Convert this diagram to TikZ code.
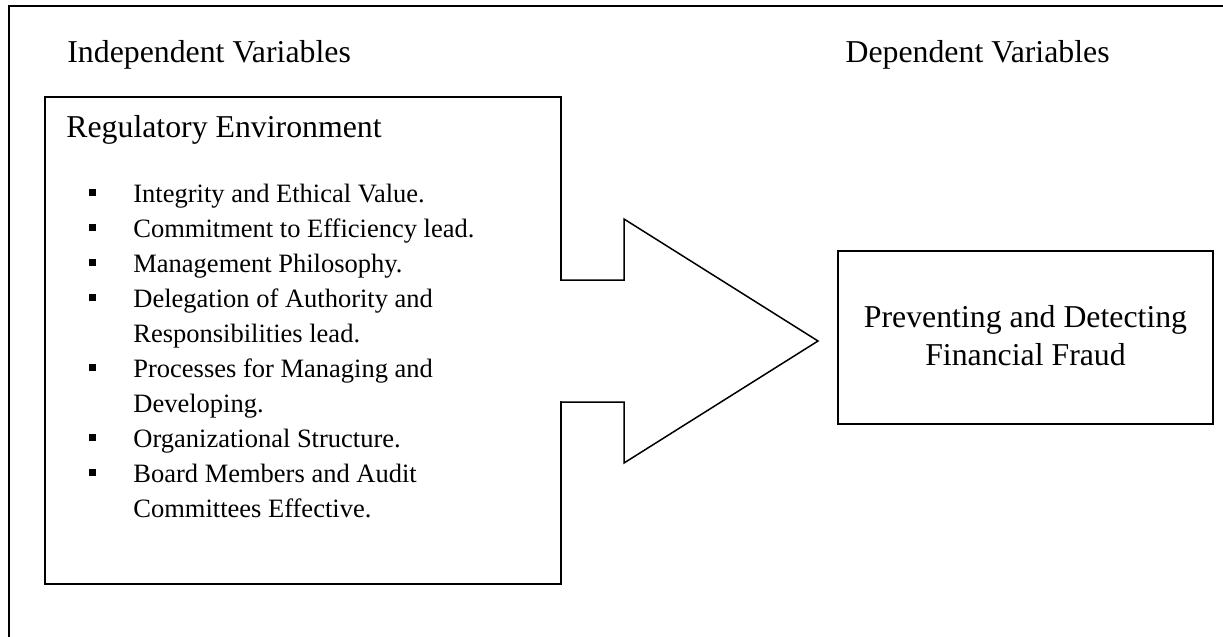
\documentclass[tikz,border=0pt]{standalone}
\usepackage{fontspec}
\setmainfont{Liberation Serif}
\usetikzlibrary{positioning}

\begin{document}
\begin{tikzpicture}[
      x=0.5pt, y=-0.5pt,
      big/.style={font=\fontsize{15.9}{19}\selectfont, inner sep=0pt},
      item/.style={font=\fontsize{13.25}{17.5}\selectfont, align=left,
                   anchor=base west, inner sep=0pt},
      bul/.style={fill=black, inner sep=0pt, minimum size=3.5pt},
      box/.style={draw, line width=1.2pt, inner sep=0pt},
      line join=miter
    ]
    \useasboundingbox (0,0) rectangle (1223,637);

    % --- outer frame (runs off the page) -----------------------------------
    \begin{scope}
      \clip (0,0) rectangle (1223,637);
      \draw[line width=1.2pt] (9,6) rectangle (1300,700);
    \end{scope}

    % --- headings ----------------------------------------------------------
    \node[big, anchor=base west] (indep) at (67,62)   {Independent Variables};
    \node[big, anchor=base east] (dep)   at (1110,62) {Dependent Variables};

    % --- boxes -------------------------------------------------------------
    \node[box, minimum width=258pt, minimum height=243.5pt] (regbox) at (303,340.5) {};
    \node[box, minimum width=187.5pt, minimum height=86.5pt] (fraud) at (1025.5,337.5) {};

    % --- block arrow between the boxes -------------------------------------
    \fill[white] (557,281) -- (624,281) -- (624,219) -- (818,341)
                 -- (624,463) -- (624,401) -- (557,401) -- cycle;
    \draw[line width=0.75pt] (561,280) -- (624,280) -- (624,219) -- (818,341)
                 -- (624,463) -- (624,402) -- (561,402);

    % --- regulatory environment list ---------------------------------------
    % (multi-line items sit on the baseline of their last line)
    \node[big, anchor=base west] (reg) at (66,137) {Regulatory Environment};

    \node[bul] (b1) at (92,192) {};
    \node[item] (i1) at (133,202) {Integrity and Ethical Value.};
    \node[bul] (b2) at (92,227) {};
    \node[item] (i2) at (133,237) {Commitment to Efficiency lead.};
    \node[bul] (b3) at (92,262) {};
    \node[item] (i3) at (133,272) {Management Philosophy.};
    \node[bul] (b4) at (92,297) {};
    \node[item] (i4) at (133,342) {Delegation of Authority and\\Responsibilities lead.};
    \node[bul] (b5) at (92,367) {};
    \node[item] (i5) at (133,412) {Processes for Managing and\\Developing.};
    \node[bul] (b6) at (92,437) {};
    \node[item] (i6) at (133,447) {Organizational Structure.};
    \node[bul] (b7) at (92,472) {};
    \node[item] (i7) at (133,517) {Board Members and Audit\\Committees Effective.};

    % --- dependent variable ------------------------------------------------
    \node[big, align=center, anchor=base] (ffraud) at (1025.5,365)
          {Preventing and Detecting\\Financial Fraud};
  \end{tikzpicture}
\end{document}
